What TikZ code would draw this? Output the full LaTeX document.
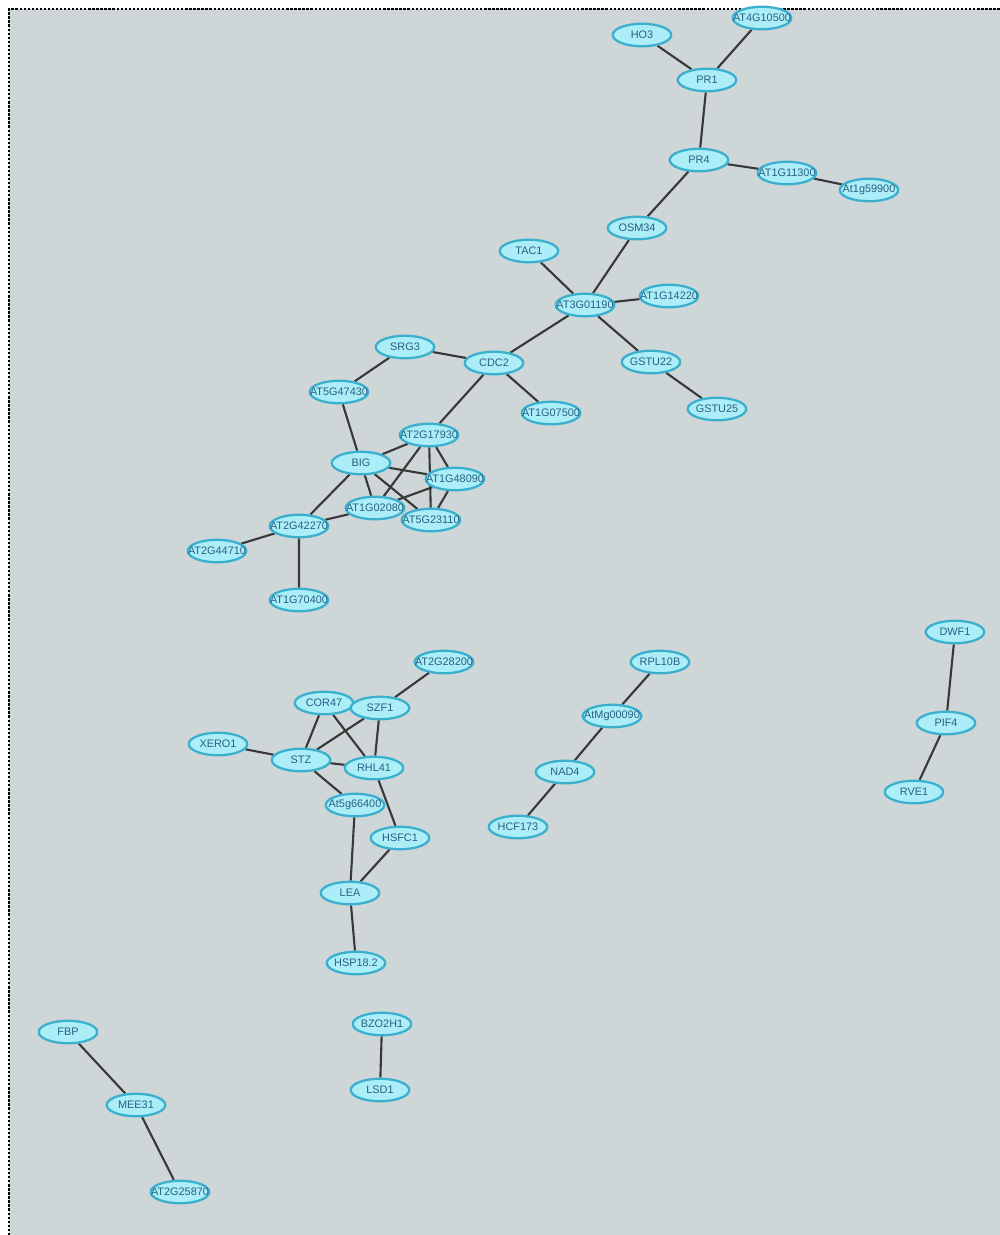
\documentclass[tikz,border=0pt]{standalone}
\usepackage{fontspec}
\setmainfont{Liberation Sans}
\usetikzlibrary{shapes.geometric,backgrounds}

\definecolor{panelgray}{RGB}{206,214,215}
\definecolor{genefill}{RGB}{172,238,248}
\definecolor{genedraw}{RGB}{58,176,206}
\definecolor{genetext}{RGB}{40,96,130}
\definecolor{linkgray}{RGB}{56,56,56}

\tikzset{
  gene/.style={ellipse, draw=genedraw, fill=genefill, line width=1.3pt,
    minimum width=1.17cm, minimum height=0.45cm, inner sep=0pt,
    text=genetext, font=\fontsize{6.2}{7}\selectfont,
    execute at begin node={\hbox to 0pt\bgroup\hss},
    execute at end node={\hss\egroup}},
  link/.style={draw=linkgray, line width=1.2pt}
}

\begin{document}
\begin{tikzpicture}[x=0.02cm, y=-0.02cm]
\useasboundingbox (0,0) rectangle (1000,1235);
\begin{pgfonlayer}{background}
\fill[panelgray] (9,9) rectangle (1000,1235);
\draw[line width=1.4pt, dash pattern=on 1.3pt off 1pt] (9,1235) -- (9,9) -- (1000,9);
\end{pgfonlayer}

% upper network
\node[gene] (at4g10500) at (762,18) {AT4G10500};
\node[gene] (ho3) at (642,35) {HO3};
\node[gene] (pr1) at (707,80) {PR1};
\node[gene] (pr4) at (699,160) {PR4};
\node[gene] (at1g11300) at (787,173) {AT1G11300};
\node[gene] (at1g59900) at (869,190) {At1g59900};
\node[gene] (osm34) at (637,228) {OSM34};
\node[gene] (tac1) at (529,251) {TAC1};
\node[gene] (at3g01190) at (585,305) {AT3G01190};
\node[gene] (at1g14220) at (669,296) {AT1G14220};
\node[gene] (gstu22) at (651,362) {GSTU22};
\node[gene] (gstu25) at (717,409) {GSTU25};
\node[gene] (srg3) at (405,347) {SRG3};
\node[gene] (cdc2) at (494,363) {CDC2};
\node[gene] (at5g47430) at (339,392) {AT5G47430};
\node[gene] (at1g07500) at (551,413) {AT1G07500};
\node[gene] (at2g17930) at (429,435) {AT2G17930};
\node[gene] (big) at (361,463) {BIG};
\node[gene] (at1g48090) at (455,479) {AT1G48090};
\node[gene] (at1g02080) at (375,508) {AT1G02080};
\node[gene] (at5g23110) at (431,520) {AT5G23110};
\node[gene] (at2g42270) at (299,526) {AT2G42270};
\node[gene] (at2g44710) at (217,551) {AT2G44710};
\node[gene] (at1g70400) at (299,600) {AT1G70400};

% stress network
\node[gene] (at2g28200) at (444,662) {AT2G28200};
\node[gene] (cor47) at (324,703) {COR47};
\node[gene] (szf1) at (380,708) {SZF1};
\node[gene] (xero1) at (218,744) {XERO1};
\node[gene] (stz) at (301,760) {STZ};
\node[gene] (rhl41) at (374,768) {RHL41};
\node[gene] (at5g66400) at (355,805) {At5g66400};
\node[gene] (hsfc1) at (400,838) {HSFC1};
\node[gene] (lea) at (350,893) {LEA};
\node[gene] (hsp182) at (356,963) {HSP18.2};

% small pieces
\node[gene] (rpl10b) at (660,662) {RPL10B};
\node[gene] (atmg00090) at (612,716) {AtMg00090};
\node[gene] (nad4) at (565,772) {NAD4};
\node[gene] (hcf173) at (518,827) {HCF173};
\node[gene] (dwf1) at (955,632) {DWF1};
\node[gene] (pif4) at (946,723) {PIF4};
\node[gene] (rve1) at (914,792) {RVE1};
\node[gene] (bzo2h1) at (382,1024) {BZO2H1};
\node[gene] (lsd1) at (380,1090) {LSD1};
\node[gene] (fbp) at (68,1032) {FBP};
\node[gene] (mee31) at (136,1105) {MEE31};
\node[gene] (at2g25870) at (180,1192) {AT2G25870};

\begin{pgfonlayer}{background}
\draw[link] (ho3) -- (pr1) (at4g10500) -- (pr1) (pr1) -- (pr4)
  (pr4) -- (at1g11300) (at1g11300) -- (at1g59900) (pr4) -- (osm34)
  (osm34) -- (at3g01190) (tac1) -- (at3g01190) (at3g01190) -- (at1g14220)
  (at3g01190) -- (gstu22) (gstu22) -- (gstu25) (at3g01190) -- (cdc2)
  (cdc2) -- (srg3) (srg3) -- (at5g47430) (cdc2) -- (at1g07500)
  (cdc2) -- (at2g17930) (at5g47430) -- (big);
\draw[link] (big) -- (at2g17930) (big) -- (at1g48090) (big) -- (at1g02080)
  (big) -- (at5g23110) (big) -- (at2g42270) (at2g17930) -- (at1g02080)
  (at2g17930) -- (at5g23110) (at2g17930) -- (at1g48090)
  (at1g48090) -- (at1g02080) (at1g48090) -- (at5g23110)
  (at1g02080) -- (at2g42270) (at2g42270) -- (at2g44710)
  (at2g42270) -- (at1g70400);
\draw[link] (szf1) -- (at2g28200) (cor47) -- (stz) (cor47) -- (rhl41)
  (szf1) -- (stz) (szf1) -- (rhl41) (xero1) -- (stz) (stz) -- (rhl41)
  (stz) -- (at5g66400) (rhl41) -- (hsfc1) (at5g66400) -- (lea)
  (hsfc1) -- (lea) (lea) -- (hsp182);
\draw[link] (rpl10b) -- (atmg00090) (atmg00090) -- (nad4) (nad4) -- (hcf173)
  (dwf1) -- (pif4) (pif4) -- (rve1) (bzo2h1) -- (lsd1)
  (fbp) -- (mee31) (mee31) -- (at2g25870);
\end{pgfonlayer}
\end{tikzpicture}
\end{document}
